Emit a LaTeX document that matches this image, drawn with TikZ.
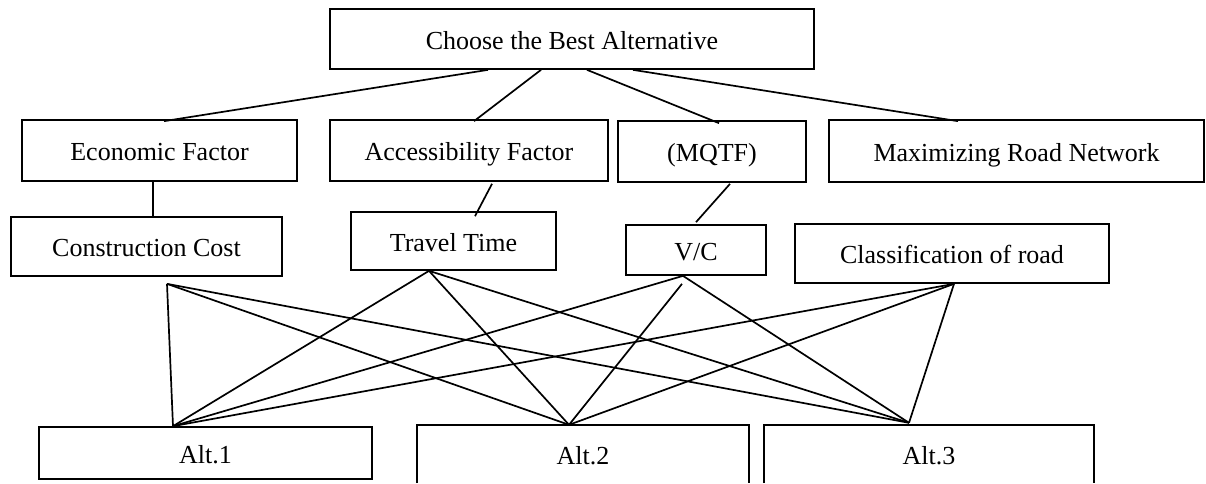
\documentclass[tikz,border=0pt]{standalone}
\usepackage{fontspec}
\setmainfont{Liberation Serif}
\begin{document}
\begin{tikzpicture}[x=1pt,y=-1pt,
  box/.style={draw, line width=1.7pt, inner sep=0pt, text height=20pt, text depth=0pt, font=\fontsize{26}{30}\selectfont},
  openbox/.style={draw=none, inner sep=0pt, text height=20pt, text depth=0pt, font=\fontsize{26}{30}\selectfont},
  conn/.style={line width=1.7pt}]
\useasboundingbox (0,0) rectangle (1206,483);
% top
\node[box, minimum width=484pt, minimum height=60pt] (top) at (572,39) {Choose the Best Alternative};
% factors
\node[box, minimum width=275pt, minimum height=61pt] (econ) at (159.5,150.5) {Economic Factor};
\node[box, minimum width=278pt, minimum height=61pt] (acc) at (469,150.5) {Accessibility Factor};
\node[box, minimum width=188pt, minimum height=61pt] (mqtf) at (712,151.5) {(MQTF)};
\node[box, minimum width=375pt, minimum height=62pt] (maxr) at (1016.5,151) {Maximizing Road Network};
% sub criteria
\node[box, minimum width=271pt, minimum height=59pt] (cc) at (146.5,246.5) {Construction Cost};
\node[box, minimum width=205pt, minimum height=58pt] (tt) at (453.5,241) {Travel Time};
\node[box, minimum width=140pt, minimum height=50pt] (vc) at (696,250) {V/C};
\node[box, minimum width=314pt, minimum height=59pt] (cl) at (952,253.5) {Classification of road};
% alternatives
\node[box, minimum width=333pt, minimum height=52pt] (alt1) at (205.5,453) {Alt.1};
\node[openbox, minimum width=332pt, minimum height=58pt] (alt2) at (583,454) {Alt.2};
\node[openbox, minimum width=330pt, minimum height=58pt] (alt3) at (929,454) {Alt.3};
\draw[conn] (alt2.south west) -- (alt2.north west) -- (alt2.north east) -- (alt2.south east);
\draw[conn] (alt3.south west) -- (alt3.north west) -- (alt3.north east) -- (alt3.south east);
% top connectors
\draw[conn] ([xshift=-84pt]top.south) -- ([xshift=4.5pt,yshift=-2pt]econ.north);
\draw[conn] ([xshift=-31pt]top.south) -- ([xshift=5pt,yshift=-2pt]acc.north);
\draw[conn] ([xshift=15pt]top.south) -- ([xshift=7pt,yshift=-3pt]mqtf.north);
\draw[conn] ([xshift=61pt]top.south) -- ([xshift=-58.5pt,yshift=-2pt]maxr.north);
% factor to sub criteria
\draw[conn] ([xshift=-6.5pt]econ.south) -- ([xshift=6.5pt]cc.north);
\draw[conn] ([xshift=23pt,yshift=-2pt]acc.south) -- ([xshift=21.5pt,yshift=-5pt]tt.north);
\draw[conn] ([xshift=18pt,yshift=-1pt]mqtf.south) -- ([yshift=2pt]vc.north);
% source and target points
\coordinate (ccB) at ([xshift=20.5pt,yshift=-7pt]cc.south);
\coordinate (ttB) at ([xshift=-24.5pt]tt.south);
\coordinate (vcB) at ([xshift=-13pt]vc.south);
\coordinate (vcB2) at ([xshift=-14pt,yshift=-8pt]vc.south);
\coordinate (clB) at ([xshift=2pt]cl.south);
\coordinate (a1T) at ([xshift=-32.5pt]alt1.north);
\coordinate (a2T) at ([xshift=-14pt]alt2.north);
\coordinate (a3T) at ([xshift=-20pt,yshift=2pt]alt3.north);
% criteria to alternatives
\draw[conn] (ccB) -- (a1T);
\draw[conn] (ccB) -- (a2T);
\draw[conn] (ccB) -- (a3T);
\draw[conn] (ttB) -- (a1T);
\draw[conn] (ttB) -- (a2T);
\draw[conn] (ttB) -- (a3T);
\draw[conn] (vcB) -- (a1T);
\draw[conn] (vcB2) -- (a2T);
\draw[conn] (vcB) -- (a3T);
\draw[conn] (clB) -- (a1T);
\draw[conn] (clB) -- (a2T);
\draw[conn] (clB) -- (a3T);
\end{tikzpicture}
\end{document}
